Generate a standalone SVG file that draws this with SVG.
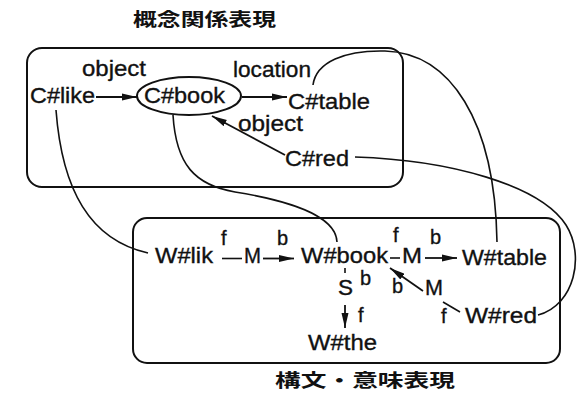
<svg xmlns="http://www.w3.org/2000/svg" width="577" height="396" viewBox="0 0 577 396">
<style>
text{font-family:"Liberation Sans",Arial,"Noto Sans CJK JP",sans-serif;fill:#111;}
.n{font-size:22px;stroke:#111;stroke-width:0.35px;}
.l{font-size:20px;stroke:#111;stroke-width:0.35px;}
.t{font-size:18px;font-family:"Noto Sans CJK JP","Noto Sans CJK SC",sans-serif;font-weight:bold;}
.box{fill:none;stroke:#111;stroke-width:2;}
.c{fill:none;stroke:#111;stroke-width:1.6;}
.a{fill:none;stroke:#111;stroke-width:1.8;marker-end:url(#ah);}
</style>
<defs>
<marker id="ah" viewBox="0 0 15 8" refX="15" refY="4" markerWidth="15" markerHeight="8" orient="auto" markerUnits="userSpaceOnUse"><path d="M0,0.5 L15,4 L0,7.5 z" fill="#111"/></marker>
</defs>

<g id="titles">
<text class="t" x="133" y="26" textLength="143" lengthAdjust="spacingAndGlyphs">概念関係表現</text>
<text class="t" x="275" y="387" textLength="180" lengthAdjust="spacingAndGlyphs">構文・意味表現</text>
</g>

<g id="concept-box"><rect class="box" x="27" y="48" width="376" height="139" rx="15"/></g>
<g id="syntax-box"><rect class="box" x="133" y="218" width="427" height="145" rx="14"/></g>

<g id="C-like"><text class="n" x="30" y="103" textLength="65" lengthAdjust="spacingAndGlyphs">C#like</text></g>
<g id="C-book"><ellipse cx="189" cy="96" rx="52" ry="19" class="box" stroke-width="1.8"/><text class="n" x="144" y="103" textLength="81" lengthAdjust="spacingAndGlyphs">C#book</text></g>
<g id="C-table"><text class="n" x="288" y="109" textLength="82" lengthAdjust="spacingAndGlyphs">C#table</text></g>
<g id="C-red"><text class="n" x="285" y="166" textLength="64" lengthAdjust="spacingAndGlyphs">C#red</text></g>

<g id="W-lik"><text class="n" x="155" y="263" textLength="58" lengthAdjust="spacingAndGlyphs">W#lik</text></g>
<g id="M1"><text class="n" x="244" y="263" textLength="17" lengthAdjust="spacingAndGlyphs">M</text></g>
<g id="W-book"><text class="n" x="301" y="263" textLength="87" lengthAdjust="spacingAndGlyphs">W#book</text></g>
<g id="M2"><text class="n" x="402" y="263" textLength="20" lengthAdjust="spacingAndGlyphs">M</text></g>
<g id="W-table"><text class="n" x="462" y="265" textLength="85" lengthAdjust="spacingAndGlyphs">W#table</text></g>
<g id="S"><text class="n" x="338" y="295" textLength="15" lengthAdjust="spacingAndGlyphs">S</text></g>
<g id="M3"><text class="n" x="425" y="295" textLength="18" lengthAdjust="spacingAndGlyphs">M</text></g>
<g id="W-red"><text class="n" x="465" y="323" textLength="72" lengthAdjust="spacingAndGlyphs">W#red</text></g>
<g id="W-the"><text class="n" x="308" y="350" textLength="69" lengthAdjust="spacingAndGlyphs">W#the</text></g>

<g id="connectors">
<line class="a" x1="96" y1="97" x2="137" y2="97"/>
<line class="a" x1="242" y1="97" x2="287" y2="97"/>
<line class="a" x1="285" y1="155" x2="212" y2="116"/>
<path class="c" d="M56,110 C62,190 90,240 148,253"/>
<path class="c" d="M173,115 C176,165 195,185 235,192 C285,200 336,215 337,242"/>
<path class="c" d="M313,85 C316,62 345,50 385,51 C450,53 495,120 497,242"/>
<path class="c" d="M355,157 C450,160 540,185 566,225 C585,255 575,305 538,315"/>
<line class="c" x1="222" y1="258.5" x2="242" y2="258.5"/>
<line class="a" x1="263" y1="258.5" x2="294" y2="258.5"/>
<line class="c" x1="390" y1="258" x2="400" y2="258"/>
<line class="a" x1="425" y1="258" x2="457" y2="258"/>
<line class="c" x1="345" y1="268" x2="345" y2="273"/>
<line class="a" x1="345" y1="305" x2="345" y2="328"/>
<line class="a" x1="423" y1="291" x2="390" y2="268"/>
<line class="c" x1="443" y1="302" x2="460" y2="312"/>
</g>

<g id="edge-labels">
<text class="n" x="82" y="76" font-size="20" textLength="64" lengthAdjust="spacingAndGlyphs">object</text>
<text class="n" x="233" y="77" font-size="20" textLength="78" lengthAdjust="spacingAndGlyphs">location</text>
<text class="n" x="238" y="131" font-size="20" textLength="65" lengthAdjust="spacingAndGlyphs">object</text>
<text class="l" x="221" y="245">f</text>
<text class="l" x="277" y="245">b</text>
<text class="l" x="393" y="242">f</text>
<text class="l" x="430" y="244">b</text>
<text class="l" x="360" y="285">b</text>
<text class="l" x="358" y="322">f</text>
<text class="l" x="392" y="293">b</text>
<text class="l" x="441" y="323">f</text>
</g>
</svg>
